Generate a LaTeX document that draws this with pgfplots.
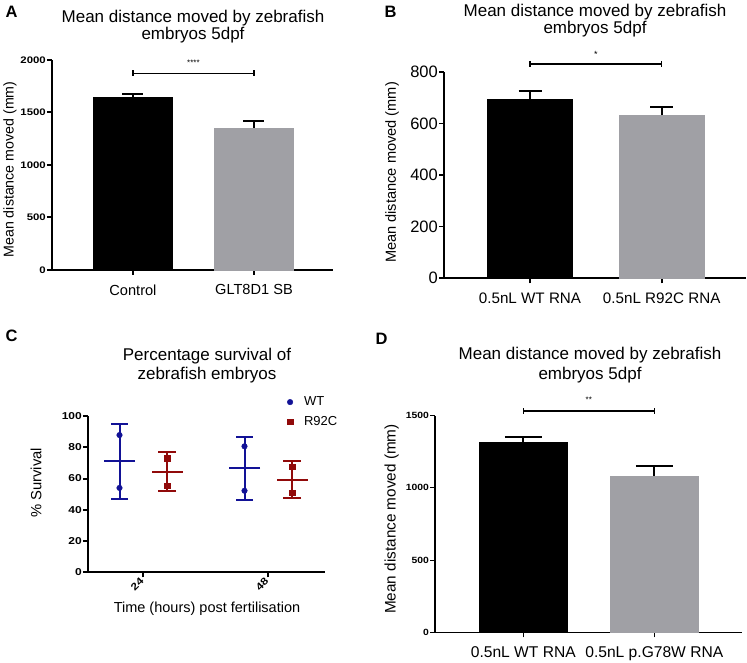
\documentclass[border=0pt]{standalone}
\usepackage{fontspec}
\setmainfont{Liberation Sans}
\newfontfamily\tickbf[FakeStretch=1.2]{Liberation Sans}
\newfontfamily\tickbfD[FakeStretch=1.15]{Liberation Sans}
\usepackage{pgfplots}
\pgfplotsset{compat=1.18}
\definecolor{bargray}{RGB}{160,160,165}
\definecolor{wtblue}{RGB}{18,18,150}
\definecolor{mutred}{RGB}{145,10,10}
\pgfplotsset{
  panel/.style={scale only axis, axis x line*=bottom, axis y line*=left,
    tick align=outside, major tick length=5pt, clip=false, anchor=south west,
    /pgf/number format/assume math mode=true, /pgf/number format/1000 sep={},
    axis line style={line width=#1, black}, every tick/.style={black, line width=#1}},
}
\newcommand{\fs}[1]{\fontsize{#1}{#1}\selectfont}
\begin{document}
\begin{tikzpicture}
\path[use as bounding box] (0,0) rectangle (747pt,662pt);

% ---------------- Panel A ----------------
\node[anchor=base west, font=\bfseries\fs{16.5}] at (2pt,644pt) {A};
\node[anchor=base, font=\fs{17}] at (193pt,639.3pt) {Mean distance moved by zebrafish};
\node[anchor=base, font=\fs{17}] at (193pt,622pt) {embryos 5dpf};
\node[rotate=90, font=\fs{14.2}] at (10pt,492.5pt) {Mean distance moved (mm)};
\begin{axis}[panel=2pt, at={(52pt,392pt)}, width=281pt, height=210pt,
  xmin=-0.669, xmax=1.653, ymin=0, ymax=2000,
  ytick={0,500,1000,1500,2000}, xtick={0,1}, xticklabels={Control,GLT8D1 SB},
  yticklabel style={font=\tickbf\bfseries\fs{9.5}, inner sep=1pt},
  xticklabel style={font=\fs{14.6}, yshift=-6pt}]
\addplot[ybar, bar width=79pt, bar shift=0pt, fill=black, draw=black,
  error bars/.cd, y dir=plus, y explicit, error bar style={line width=2pt, black},
  error mark options={rotate=90, line width=2pt, mark size=10.5pt, black}]
  coordinates {(0,1641) +- (0,35)};
\addplot[ybar, bar width=79pt, bar shift=0pt, fill=bargray, draw=bargray,
  error bars/.cd, y dir=plus, y explicit, error bar style={line width=2pt, black},
  error mark options={rotate=90, line width=2pt, mark size=10.5pt, black}]
  coordinates {(1,1355) +- (0,67)};
\addplot[black, line width=1.5pt, mark=|, mark size=3pt, mark options={line width=1.5pt}]
  coordinates {(0,1873) (1,1873)};
\node[font=\fs{8}] at (axis cs:0.5,1975) {****};
\end{axis}

% ---------------- Panel B ----------------
\node[anchor=base west, font=\bfseries\fs{16.5}] at (381pt,644pt) {B};
\node[anchor=base, font=\fs{17}] at (595pt,645.3pt) {Mean distance moved by zebrafish};
\node[anchor=base, font=\fs{17}] at (595pt,628.7pt) {embryos 5dpf};
\node[rotate=90, font=\fs{14.6}] at (392pt,489.5pt) {Mean distance moved (mm)};
\begin{axis}[panel=1.6pt, at={(444pt,383.7pt)}, width=302pt, height=206.6pt,
  xmin=-0.653, xmax=1.64, ymin=0, ymax=800,
  ytick={0,200,400,600,800}, xtick={0,1}, xticklabels={0.5nL WT RNA,0.5nL R92C RNA},
  yticklabel style={font=\fs{16.5}, inner sep=1pt},
  xticklabel style={font=\fs{15.2}, yshift=-6pt}]
\addplot[ybar, bar width=85pt, bar shift=0pt, fill=black, draw=black,
  error bars/.cd, y dir=plus, y explicit, error bar style={line width=2pt, black},
  error mark options={rotate=90, line width=2pt, mark size=11.5pt, black}]
  coordinates {(0,695) +- (0,31)};
\addplot[ybar, bar width=85pt, bar shift=0pt, fill=bargray, draw=bargray,
  error bars/.cd, y dir=plus, y explicit, error bar style={line width=2pt, black},
  error mark options={rotate=90, line width=2pt, mark size=11.5pt, black}]
  coordinates {(1,632) +- (0,30)};
\addplot[black, line width=1.5pt, mark=|, mark size=3pt, mark options={line width=1.5pt}]
  coordinates {(0,830) (1,830)};
\node[font=\fs{9}] at (axis cs:0.5,868) {*};
\end{axis}

% ---------------- Panel C ----------------
\node[anchor=base west, font=\bfseries\fs{16.5}] at (2pt,320.3pt) {C};
\node[anchor=base, font=\fs{17}] at (207pt,301.3pt) {Percentage survival of};
\node[anchor=base, font=\fs{17}] at (207pt,282.7pt) {zebrafish embryos};
\node[rotate=90, font=\fs{14.8}] at (36pt,179pt) {\% Survival};
\node[font=\fs{14.5}, inner sep=1pt] at (207pt,53pt) {Time (hours) post fertilisation};
\begin{axis}[panel=2pt, at={(88pt,89.7pt)}, width=237pt, height=156.3pt,
  xmin=-0.442, xmax=1.454, ymin=0, ymax=100,
  ytick={0,20,40,60,80,100}, xtick={0,1}, xticklabels={24,48},
  yticklabel style={font=\tickbf\bfseries\fs{10}, inner sep=1pt},
  xticklabel style={font=\tickbf\bfseries\fs{10}, yshift=-1.5pt, xshift=-1pt, rotate=45, anchor=east, inner sep=0.5pt},
  legend style={draw=none, fill=none, at={(0.835,1.13)}, anchor=north west,
    inner sep=0pt, row sep=7pt, font=\fs{13}, nodes={inner sep=1pt}},
  legend cell align=left,
  legend image code/.code={\draw[#1] plot coordinates {(4pt,0pt)}; \path[draw=none] (0pt,0pt) (17pt,0pt);}]
\addplot[wtblue, only marks, mark=-, mark size=15.5pt, mark options={line width=2pt},
  forget plot,
  error bars/.cd, y dir=both, y explicit, error bar style={line width=2pt, wtblue},
  error mark options={rotate=90, line width=2pt, mark size=8.5pt, wtblue}]
  coordinates {(-0.19,70.9) +- (0,24.0) (0.81,66.5) +- (0,20.2)};
\addplot[mutred, only marks, mark=-, mark size=15.5pt, mark options={line width=2pt},
  forget plot,
  error bars/.cd, y dir=both, y explicit, error bar style={line width=2pt, mutred},
  error mark options={rotate=90, line width=2pt, mark size=9pt, mutred}]
  coordinates {(0.19,64.2) +- (0,12.5) (1.19,59.2) +- (0,11.8)};
\addplot[wtblue, only marks, mark=*, mark size=2.8pt]
  coordinates {(-0.19,87.8) (-0.19,54.0) (0.81,80.6) (0.81,52.2)};
\addlegendentry{WT}
\addplot[mutred, only marks, mark=square*, mark size=2.8pt]
  coordinates {(0.19,72.9) (0.19,55.4) (1.19,67.6) (1.19,50.9)};
\addlegendentry{R92C}
\end{axis}

% ---------------- Panel D ----------------
\node[anchor=base west, font=\bfseries\fs{16.5}] at (372pt,317pt) {D};
\node[anchor=base, font=\fs{17}] at (590pt,302pt) {Mean distance moved by zebrafish};
\node[anchor=base, font=\fs{17}] at (590pt,282pt) {embryos 5dpf};
\node[rotate=90, font=\fs{15.3}] at (391.7pt,143pt) {Mean distance moved (mm)};
\begin{axis}[panel=1.1pt, at={(435pt,29.7pt)}, width=306.7pt, height=216.6pt,
  xmin=-0.674, xmax=1.667, ymin=0, ymax=1500,
  ytick={0,500,1000,1500}, xtick={0,1}, xticklabels={0.5nL WT RNA,0.5nL p.G78W RNA},
  yticklabel style={font=\tickbfD\bfseries\fs{9}, inner sep=1pt},
  xticklabel style={font=\fs{15.6}, yshift=-6pt}]
\addplot[ybar, bar width=88pt, bar shift=0pt, fill=black, draw=black,
  error bars/.cd, y dir=plus, y explicit, error bar style={line width=1.8pt, black},
  error mark options={rotate=90, line width=1.8pt, mark size=18.5pt, black}]
  coordinates {(0,1316) +- (0,39)};
\addplot[ybar, bar width=88pt, bar shift=0pt, fill=bargray, draw=bargray,
  error bars/.cd, y dir=plus, y explicit, error bar style={line width=1.8pt, black},
  error mark options={rotate=90, line width=1.8pt, mark size=18.5pt, black}]
  coordinates {(1,1082) +- (0,70)};
\addplot[black, line width=1.5pt, mark=|, mark size=3pt, mark options={line width=1.5pt}]
  coordinates {(0,1532) (1,1532)};
\node[font=\fs{8}] at (axis cs:0.5,1610) {**};
\end{axis}
\end{tikzpicture}
\end{document}
